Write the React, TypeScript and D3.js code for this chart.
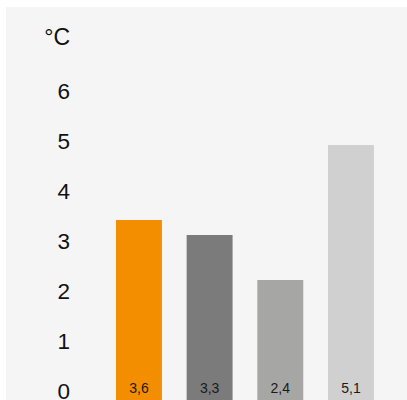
import React from "react";
import * as d3 from "d3";

const categories = ["Serie 1", "Serie 2", "Serie 3", "Serie 4"];
const values = [3.6, 3.3, 2.4, 5.1];
const barColors = ["#f28e00", "#7b7b7b", "#a6a6a5", "#d0d0d0"];
const yTicks = [0, 1, 2, 3, 4, 5, 6];
const unitLabel = "°C";

const W = 407;
const H = 400;

export default function App() {
  const y = d3.scaleLinear().domain([0, 8]).range([400, 0]);
  const x = d3
    .scaleBand<string>()
    .domain(categories)
    .range([103.6, 386.3])
    .paddingInner(0.35)
    .paddingOuter(0.175);
  const locale = d3.formatLocale({ decimal: ",", thousands: ".", grouping: [3], currency: ["", "€"] });
  const fmt = locale.format(".1f");
  const font = "'Liberation Sans', Arial, Helvetica, sans-serif";

  return (
    <svg
      width={W}
      height={H}
      style={{ position: "absolute", left: 0, top: 0, display: "block" }}
      fontFamily={font}
    >
      <rect x={6} y={7} width={W - 6} height={H - 7} fill="#f5f5f5" />
      <text x={70} y={45} fontSize={23} textAnchor="end" fill="#111">
        {unitLabel}
      </text>
      {yTicks.map((t) => (
        <text key={t} x={70} y={y(t) - 1.5} fontSize={22.5} textAnchor="end" fill="#111">
          {t}
        </text>
      ))}
      {categories.map((c, i) => (
        <g key={c}>
          <rect
            x={x(c)}
            y={y(values[i])}
            width={x.bandwidth()}
            height={y(0) - y(values[i])}
            fill={barColors[i]}
          />
          <text
            x={(x(c) as number) + x.bandwidth() / 2}
            y={393}
            fontSize={14}
            textAnchor="middle"
            fill="#1a1a1a"
          >
            {fmt(values[i])}
          </text>
        </g>
      ))}
    </svg>
  );
}
